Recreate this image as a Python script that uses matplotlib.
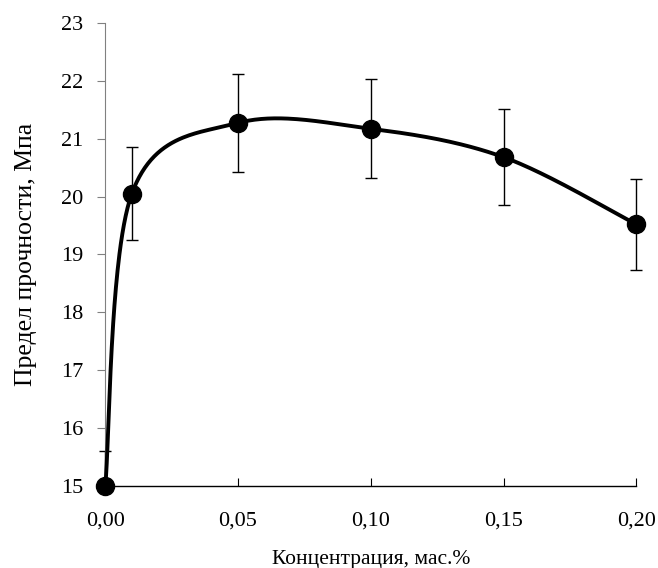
import numpy as np
import matplotlib
matplotlib.use("Agg")
import matplotlib.pyplot as plt
from matplotlib.patches import Rectangle

# ДАННЫЕ
conc = [0.00, 0.01, 0.05, 0.10, 0.15, 0.20]          # концентрация, мас.%
strength = [15.0, 20.05, 21.27, 21.17, 20.68, 19.52]  # предел прочности, МПа
err = [0.6, 0.8, 0.84, 0.85, 0.83, 0.78]
xticks = [0.00, 0.05, 0.10, 0.15, 0.20]
xticklabels = ["0,00", "0,05", "0,10", "0,15", "0,20"]
yticks = [15, 16, 17, 18, 19, 20, 21, 22, 23]

plt.rcParams["font.family"] = ["Liberation Serif", "DejaVu Serif"]

fig = plt.figure(figsize=(6.58, 5.68), dpi=100)
ax = fig.add_axes([0.160, 0.144, 0.807, 0.816])
ax.set_xlim(0, 0.20)
ax.set_ylim(15, 23)


def smooth_line(ax, xs, ys, n=60):
    # сглаживание как в Excel (Catmull-Rom в экранных координатах)
    pts = ax.transData.transform(np.column_stack([xs, ys]))
    P = np.vstack([pts[0], pts, pts[-1]])
    out = []
    for i in range(1, len(P) - 2):
        p0, p1, p2, p3 = P[i - 1], P[i], P[i + 1], P[i + 2]
        c1 = p1 + (p2 - p0) / 6
        c2 = p2 - (p3 - p1) / 6
        t = np.linspace(0, 1, n)[:, None]
        b = ((1 - t) ** 3) * p1 + 3 * ((1 - t) ** 2) * t * c1 + 3 * (1 - t) * t ** 2 * c2 + t ** 3 * p2
        out.append(b)
    out = np.vstack(out)
    return ax.transData.inverted().transform(out)


curve = smooth_line(ax, conc, strength)
ax.plot(curve[:, 0], curve[:, 1], "-", color="black", lw=2.8, zorder=3, clip_on=False)
eb = ax.errorbar(conc, strength, yerr=err, fmt="none", ecolor="black", elinewidth=1.0,
                 capsize=4, capthick=1.0, zorder=2)
# обрезаем усы только снизу (ниже оси X)
clip = Rectangle((-0.1, 0), 1.2, 1.2, transform=ax.transAxes, fill=False, visible=False)
ax.add_patch(clip)
for art in list(eb.lines[1]) + list(eb.lines[2]):
    art.set_clip_path(clip)
ax.plot(conc, strength, "o", color="black", markersize=13, zorder=4, clip_on=False)

ax.spines["top"].set_visible(False)
ax.spines["right"].set_visible(False)
ax.spines["left"].set_color("#808080")
ax.spines["bottom"].set_linewidth(1.0)

ax.set_xticks(xticks)
ax.set_xticklabels(xticklabels)
ax.set_yticks(yticks)
ax.tick_params(axis="x", direction="in", length=6, labelsize=16, pad=18)
ax.tick_params(axis="y", direction="out", length=6, color="#808080", labelsize=16, pad=10)

ax.set_xlabel("Концентрация, мас.%", fontsize=15.5, labelpad=14)
ax.set_ylabel("Предел прочности, Мпа", fontsize=18.5, labelpad=17)

plt.savefig("out.png", dpi=100)
